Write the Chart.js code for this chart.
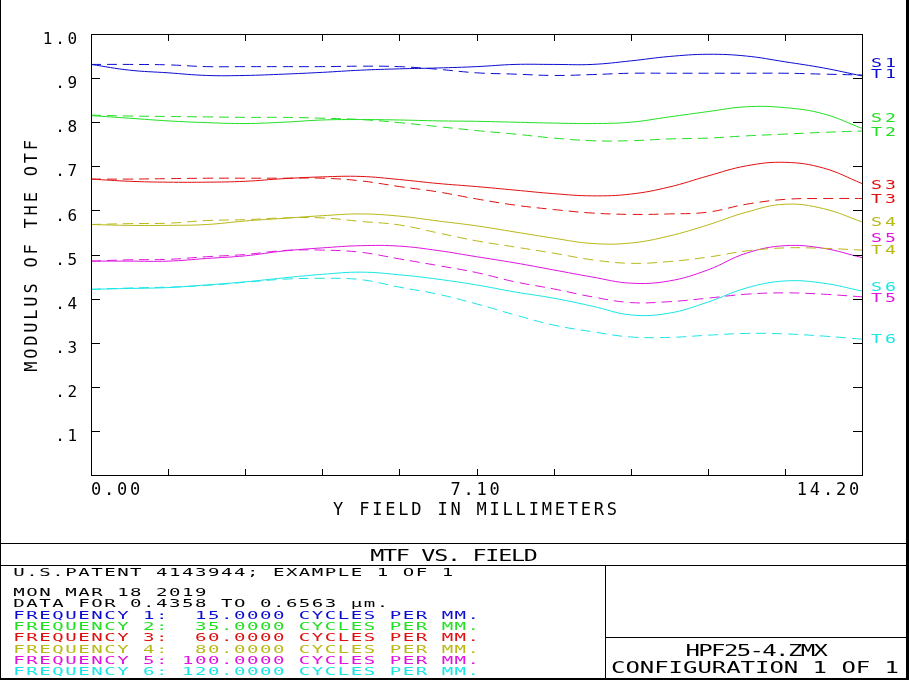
<!DOCTYPE html>
<html>
<head>
<meta charset="utf-8">
<script src="https://cdn.jsdelivr.net/npm/chart.js@4.4.1/dist/chart.umd.min.js"></script>
<style>
  html, body { margin: 0; padding: 0; background: #fff; }
  #wrap { width: 909px; height: 680px; position: relative; }
</style>
</head>
<body>
<div id="wrap"><canvas id="c" width="909" height="680"></canvas></div>
<script>
// ---------------- data ----------------
const field = [0, 0.71, 1.42, 2.13, 2.84, 3.55, 4.26, 4.97, 5.68, 6.39, 7.10, 7.81, 8.52, 9.23, 9.94, 10.65, 11.36, 12.07, 12.78, 13.49, 14.20];

const s1 = [0.931, 0.918, 0.912, 0.906, 0.906, 0.909, 0.913, 0.918, 0.921, 0.923, 0.926, 0.931, 0.931, 0.931, 0.939, 0.949, 0.954, 0.950, 0.937, 0.923, 0.905];
const t1 = [0.931, 0.931, 0.930, 0.926, 0.926, 0.926, 0.926, 0.927, 0.926, 0.920, 0.912, 0.909, 0.906, 0.908, 0.911, 0.911, 0.911, 0.911, 0.911, 0.909, 0.907];
const s2 = [0.815, 0.809, 0.803, 0.799, 0.797, 0.800, 0.805, 0.806, 0.805, 0.803, 0.802, 0.800, 0.798, 0.797, 0.800, 0.812, 0.824, 0.835, 0.833, 0.819, 0.786];
const t2 = [0.816, 0.814, 0.813, 0.812, 0.811, 0.811, 0.809, 0.806, 0.799, 0.790, 0.781, 0.773, 0.764, 0.758, 0.758, 0.762, 0.764, 0.769, 0.773, 0.777, 0.780];
const s3 = [0.671, 0.666, 0.664, 0.664, 0.666, 0.672, 0.676, 0.677, 0.670, 0.661, 0.654, 0.646, 0.638, 0.633, 0.637, 0.653, 0.678, 0.701, 0.709, 0.696, 0.661];
const t3 = [0.671, 0.671, 0.672, 0.673, 0.673, 0.673, 0.673, 0.667, 0.654, 0.642, 0.626, 0.612, 0.602, 0.594, 0.591, 0.592, 0.596, 0.614, 0.625, 0.627, 0.627];
const s4 = [0.568, 0.566, 0.566, 0.568, 0.576, 0.582, 0.588, 0.592, 0.587, 0.576, 0.565, 0.551, 0.537, 0.525, 0.526, 0.542, 0.567, 0.596, 0.614, 0.604, 0.574];
const t4 = [0.568, 0.570, 0.571, 0.577, 0.579, 0.583, 0.583, 0.575, 0.567, 0.549, 0.531, 0.517, 0.503, 0.488, 0.480, 0.484, 0.494, 0.508, 0.515, 0.514, 0.510];
const s5 = [0.485, 0.485, 0.485, 0.491, 0.497, 0.508, 0.515, 0.520, 0.519, 0.509, 0.495, 0.481, 0.465, 0.449, 0.435, 0.440, 0.465, 0.503, 0.520, 0.514, 0.493];
const t5 = [0.485, 0.488, 0.489, 0.495, 0.500, 0.509, 0.510, 0.505, 0.490, 0.475, 0.459, 0.438, 0.422, 0.404, 0.391, 0.393, 0.401, 0.410, 0.413, 0.410, 0.404];
const s6 = [0.421, 0.423, 0.425, 0.431, 0.438, 0.447, 0.455, 0.460, 0.454, 0.444, 0.431, 0.415, 0.401, 0.383, 0.363, 0.367, 0.392, 0.424, 0.440, 0.435, 0.417];
const t6 = [0.421, 0.424, 0.426, 0.430, 0.437, 0.444, 0.446, 0.443, 0.426, 0.410, 0.388, 0.363, 0.340, 0.325, 0.313, 0.312, 0.317, 0.321, 0.320, 0.315, 0.308];

const frequencies = [15, 35, 60, 80, 100, 120];
const seriesNames = ['S1', 'T1', 'S2', 'T2', 'S3', 'T3', 'S4', 'T4', 'S5', 'T5', 'S6', 'T6'];
// MTF value at which each curve's end tag is written
const tagAnchors = [0.934, 0.909, 0.810, 0.779, 0.658, 0.627, 0.574, 0.510, 0.539, 0.401, 0.427, 0.309];

const xTicks = [0, 1.42, 2.84, 4.26, 5.68, 7.10, 8.52, 9.94, 11.36, 12.78, 14.20];
const xTickLabels = ['0.00', '', '', '', '', '7.10', '', '', '', '', '14.20'];
const yTicks = [0, 0.1, 0.2, 0.3, 0.4, 0.5, 0.6, 0.7, 0.8, 0.9, 1.0];
const yTickLabels = ['', '.1', '.2', '.3', '.4', '.5', '.6', '.7', '.8', '.9', '1.0'];

const chartTitle = 'MTF VS. FIELD';
const headerLines = ['U.S.PATENT 4143944; EXAMPLE 1 OF 1', '', 'MON MAR 18 2019', 'DATA FOR 0.4358 TO 0.6563 µm.'];
const fileLines = ['HPF25-4.ZMX', 'CONFIGURATION 1 OF 1'];

// ---------------- styles ----------------
const colors = ['#0c0cd0', '#22e022', '#e01010', '#b8b818', '#e014e0', '#1ae6e6'];
const FONT = '"DejaVu Sans Mono", monospace';

const allSeries = [s1, t1, s2, t2, s3, t3, s4, t4, s5, t5, s6, t6];
const datasets = allSeries.map((vals, k) => {
  const isT = k % 2 === 1;
  return {
    label: seriesNames[k],
    data: field.map((f, i) => ({ x: f, y: vals[i] })),
    borderColor: colors[Math.floor(k / 2)],
    borderWidth: 1,
    borderDash: isT ? [10, 6] : [],
    pointRadius: 0,
    fill: false,
    tension: 0.4
  };
});

function drawWide(ctx, text, x, yBase, size, sx, pitch, align, color) {
  ctx.save();
  ctx.font = size + 'px ' + FONT;
  ctx.letterSpacing = '0px';
  const adv = ctx.measureText('M').width;
  ctx.letterSpacing = (pitch / sx - adv) + 'px';
  const w = (text.length - 1) * pitch + adv * sx;
  let x0 = x;
  if (align === 'center') x0 = x - w / 2;
  else if (align === 'right') x0 = x - w;
  ctx.fillStyle = color;
  ctx.textAlign = 'left';
  ctx.textBaseline = 'alphabetic';
  ctx.translate(x0, yBase);
  ctx.scale(sx, 1);
  ctx.fillText(text, 0, 0);
  ctx.restore();
}

const zemaxPlugin = {
  id: 'zemax',
  beforeUpdate(chart) { chart.ctx.letterSpacing = '2.8px'; },
  beforeDraw(chart) {
    const ctx = chart.ctx;
    ctx.save();
    ctx.fillStyle = '#fff';
    ctx.fillRect(0, 0, chart.width, chart.height);
    ctx.restore();
    ctx.letterSpacing = '2.8px';
  },
  afterDraw(chart) {
    const ctx = chart.ctx;
    const a = chart.chartArea;
    const xs = chart.scales.x, ys = chart.scales.y;
    ctx.save();
    ctx.letterSpacing = '0px';
    ctx.strokeStyle = '#000';
    ctx.lineWidth = 1;
    // plot frame
    ctx.strokeRect(Math.round(a.left) + 0.5, Math.round(a.top) + 0.5,
                   Math.round(a.right - a.left), Math.round(a.bottom - a.top));
    // inward tick marks
    ctx.beginPath();
    xTicks.forEach((v, i) => {
      if (i === 0 || i === xTicks.length - 1) return;
      const px = Math.round(xs.getPixelForValue(v)) + 0.5;
      ctx.moveTo(px, a.bottom); ctx.lineTo(px, a.bottom - 6);
      ctx.moveTo(px, a.top); ctx.lineTo(px, a.top + 7);
    });
    yTicks.forEach((v, i) => {
      if (i === 0 || i === yTicks.length - 1) return;
      const py = Math.round(ys.getPixelForValue(v)) + 0.5;
      ctx.moveTo(a.left, py); ctx.lineTo(a.left + 9, py);
      ctx.moveTo(a.right, py); ctx.lineTo(a.right - 9, py);
    });
    ctx.stroke();

    // curve end tags
    seriesNames.forEach((name, k) => {
      const py = ys.getPixelForValue(tagAnchors[k]);
      drawWide(ctx, name, a.right + 9, py + 4.2, 11.4, 1.6, 14, 'left', colors[Math.floor(k / 2)]);
    });

    // footer boxes
    ctx.fillStyle = '#000';
    ctx.fillRect(0, 0, 1, 680);
    ctx.fillRect(906, 0, 3, 680);
    ctx.fillRect(0, 678, 909, 2);
    ctx.fillRect(0, 543, 906, 1);
    ctx.fillRect(0, 565, 906, 1);
    ctx.fillRect(605, 565, 1, 113);
    ctx.fillRect(605, 637, 301, 1);

    drawWide(ctx, chartTitle, 454, 560.7, 15.6, 1.5, 12.8, 'center', '#000');
    const headerBases = [576, 585, 595.7, 606.7];
    headerLines.forEach((t, i) => {
      if (t) drawWide(ctx, t, 13.3, headerBases[i], 10.6, 1.8, 12.98, 'left', '#000');
    });
    frequencies.forEach((f, i) => {
      const t = 'FREQUENCY ' + (i + 1) + ': ' + f.toFixed(4).padStart(8, ' ') + ' CYCLES PER MM.';
      drawWide(ctx, t, 13.3, 619 + i * 11.2, 10.6, 1.8, 12.98, 'left', colors[i]);
    });
    drawWide(ctx, fileLines[0], 756.7, 656, 16, 1.5, 12.8, 'center', '#000');
    drawWide(ctx, fileLines[1], 755, 673.3, 16, 1.5, 14.4, 'center', '#000');
    ctx.restore();
    ctx.letterSpacing = '2.8px';
  }
};

Chart.defaults.font.family = FONT;
Chart.defaults.color = '#000';

new Chart(document.getElementById('c'), {
  type: 'line',
  data: { datasets },
  options: {
    responsive: false,
    animation: false,
    devicePixelRatio: 1,
    layout: { padding: { left: 0, top: 34, right: 47, bottom: 145 } },
    plugins: { legend: { display: false }, tooltip: { enabled: false }, title: { display: false } },
    scales: {
      x: {
        type: 'linear', min: 0, max: 14.2, position: 'bottom',
        afterFit(scale) { scale.height = 60; },
        afterBuildTicks(scale) { scale.ticks = xTicks.map(v => ({ value: v })); },
        grid: { display: false, drawTicks: false },
        border: { display: false },
        ticks: {
          autoSkip: false, maxRotation: 0, minRotation: 0, align: 'inner', padding: 5,
          font: { size: 17 }, color: '#000',
          callback: (v, i) => xTickLabels[i]
        },
        title: { display: true, text: 'Y FIELD IN MILLIMETERS', font: { size: 17 }, color: '#000', padding: { top: 0, bottom: 14 } }
      },
      y: {
        type: 'linear', min: 0, max: 1, position: 'left',
        afterFit(scale) { scale.width = 91; },
        afterBuildTicks(scale) { scale.ticks = yTicks.map(v => ({ value: v })); },
        grid: { display: false, drawTicks: false },
        border: { display: false },
        ticks: {
          autoSkip: false, padding: 11, labelOffset: 6,
          font: { size: 16 }, color: '#000',
          callback: (v, i) => yTickLabels[i]
        },
        title: { display: true, text: 'MODULUS OF THE OTF', font: { size: 17 }, color: '#000', padding: { top: 22, bottom: 0 } }
      }
    }
  },
  plugins: [zemaxPlugin]
});
</script>
</body>
</html>
